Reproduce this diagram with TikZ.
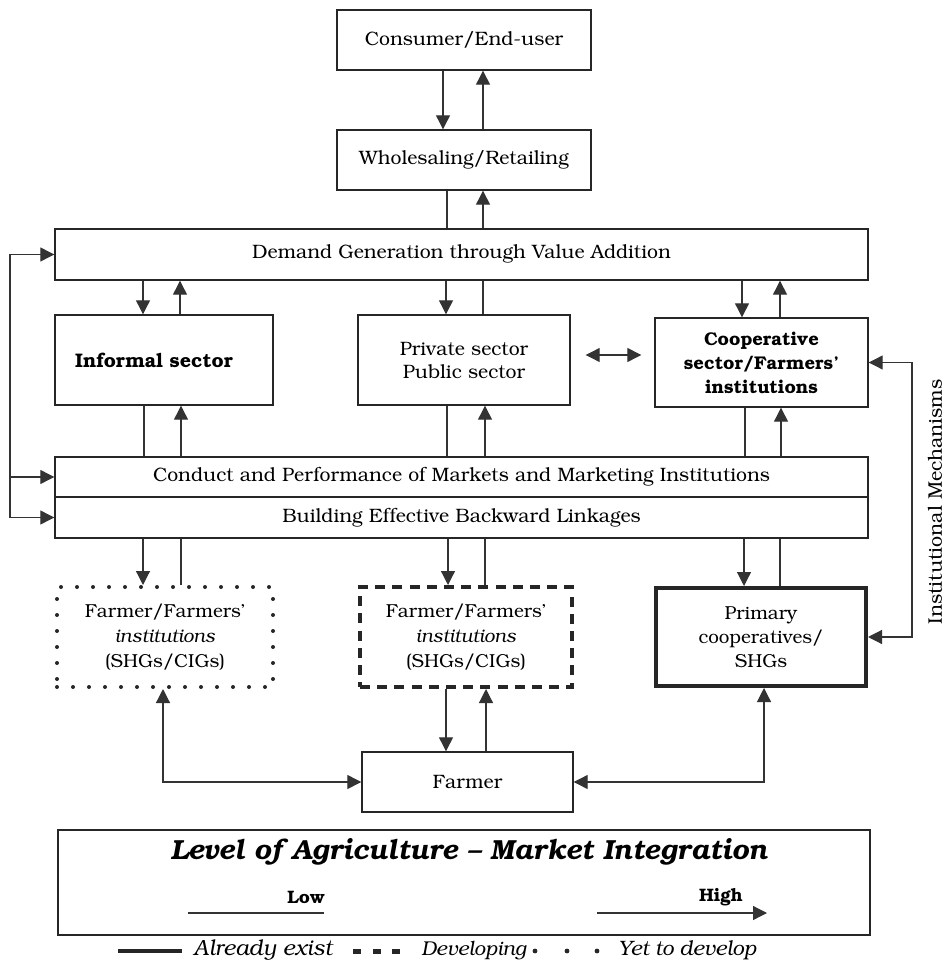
\documentclass[tikz,border=0pt]{standalone}
\usepackage[T1]{fontenc}
\usepackage{bookman}
\usetikzlibrary{arrows.meta,calc}

\begin{document}
\begin{tikzpicture}[x=0.5pt,y=-0.5pt,
  box/.style={draw=black!85, line width=0.7pt, inner sep=0pt, align=center,
    font=\fontsize{9.7}{12}\selectfont},
  dotbox/.style={box, line width=2pt, dash pattern=on 0pt off 8pt, line cap=round},
  dashbox/.style={box, line width=2pt, dash pattern=on 5pt off 3.6pt},
  thickbox/.style={box, line width=2pt},
  ln/.style={draw=black!80, line width=0.6pt},
  arr/.style={ln, -{Triangle[length=7pt,width=7pt]}},
  darr/.style={ln, {Triangle[length=7pt,width=7pt]}-{Triangle[length=7pt,width=7pt]}},
  lbl/.style={inner sep=0pt, font=\fontsize{9.5}{12}\selectfont}
]
\useasboundingbox (0,0) rectangle (945,961);

% ---- boxes ----
\node[box, minimum width=127pt, minimum height=30pt] (cons) at (464,40) {Consumer/End-user};
\node[box, minimum width=127pt, minimum height=30pt] (whole) at (464,160) {Wholesaling/Retailing};
\node[box, minimum width=406.5pt, minimum height=25.5pt] (demand) at (461.5,254.5)
  {Demand Generation through Value Addition};

\node[box, minimum width=109pt, minimum height=45pt, font=\fontsize{9.8}{12}\selectfont\bfseries]
  (informal) at (164,360) {Informal sector\hspace*{10pt}\raisebox{3pt}{}};
\node[box, minimum width=106pt, minimum height=45pt, font=\fontsize{9.7}{11.5}\selectfont]
  (private) at (464,360) {Private sector\\Public sector};
\node[box, minimum width=106.5pt, minimum height=44.5pt, font=\fontsize{9.2}{12}\selectfont\bfseries]
  (coop) at (761.5,362.5) {Cooperative\\sector/Farmers'\\institutions};

\node[box, minimum width=406.5pt, minimum height=20pt] (conduct) at (461.5,477)
  {Conduct and Performance of Markets and Marketing Institutions};
\node[box, minimum width=406.5pt, minimum height=20.5pt] (build) at (461.5,517.5)
  {Building Effective Backward Linkages};

\node[dotbox, minimum width=108pt, minimum height=50pt, font=\fontsize{9.4}{12.5}\selectfont]
  (dotted) at (165,637) {Farmer/Farmers'\\\textit{institutions}\\(SHGs/CIGs)};
\node[dashbox, minimum width=106pt, minimum height=50pt, font=\fontsize{9.4}{12.5}\selectfont]
  (dashed) at (466,637) {Farmer/Farmers'\\\textit{institutions}\\(SHGs/CIGs)};
\node[thickbox, minimum width=105pt, minimum height=49pt, font=\fontsize{9.4}{12}\selectfont]
  (primary) at (761,637) {Primary\\cooperatives/\\SHGs};

\node[box, minimum width=105.5pt, minimum height=30pt] (farmer) at (467.5,782) {Farmer};

\node[box, minimum width=406pt, minimum height=52.5pt] (level) at (464,882.5) {};

% ---- vertical links ----
% consumer / wholesaling
\draw[arr] ($(cons.south)+(-21,0)$) -- ($(whole.north)+(-21,0)$);
\draw[arr] ($(whole.north)+(19,0)$) -- ($(cons.south)+(19,0)$);
% wholesaling / demand generation
\draw[ln] ($(whole.south)+(-17,0)$) -- ($(whole.south |- demand.north)+(-17,0)$);
\draw[arr] ($(whole.south |- demand.north)+(19,0)$) -- ($(whole.south)+(19,0)$);

% demand generation / sectors
\draw[arr] ($(informal.north |- demand.south)+(-21,0)$) -- ($(informal.north)+(-21,0)$);
\draw[arr] ($(informal.north)+(16,0)$) -- ($(informal.north |- demand.south)+(16,0)$);
\draw[arr] ($(private.north |- demand.south)+(-18,0)$) -- ($(private.north)+(-18,0)$);
\draw[ln] ($(private.north)+(19,0)$) -- ($(private.north |- demand.south)+(19,0)$);
\draw[arr] ($(coop.north |- demand.south)+(-19.5,0)$) -- ($(coop.north)+(-19.5,0)$);
\draw[arr] ($(coop.north)+(18.5,0)$) -- ($(coop.north |- demand.south)+(18.5,0)$);

% sectors / conduct and performance
\draw[ln] ($(informal.south)+(-20,0)$) -- ($(informal.south |- conduct.north)+(-20,0)$);
\draw[arr] ($(informal.south |- conduct.north)+(17,0)$) -- ($(informal.south)+(17,0)$);
\draw[ln] ($(private.south)+(-17,0)$) -- ($(private.south |- conduct.north)+(-17,0)$);
\draw[arr] ($(private.south |- conduct.north)+(21,0)$) -- ($(private.south)+(21,0)$);
\draw[ln] ($(coop.south)+(-16.5,0)$) -- ($(coop.south |- conduct.north)+(-16.5,0)$);
\draw[arr] ($(coop.south |- conduct.north)+(19.5,0)$) -- ($(coop.south)+(19.5,0)$);

% backward linkages / grassroots institutions
\draw[arr] ($(dotted.north |- build.south)+(-22,0)$) -- ($(dotted.north)+(-22,0)$);
\draw[ln] ($(dotted.north)+(16,0)$) -- ($(dotted.north |- build.south)+(16,0)$);
\draw[arr] ($(dashed.north |- build.south)+(-18,0)$) -- ($(dashed.north)+(-18,0)$);
\draw[ln] ($(dashed.north)+(19,0)$) -- ($(dashed.north |- build.south)+(19,0)$);
\draw[arr] ($(primary.north |- build.south)+(-17,0)$) -- ($(primary.north)+(-17,0)$);
\draw[ln] ($(primary.north)+(19,0)$) -- ($(primary.north |- build.south)+(19,0)$);

% farmer links
\draw[arr] ($(dashed.south)+(-20,0)$) -- ($(dashed.south |- farmer.north)+(-20,0)$);
\draw[arr] ($(dashed.south |- farmer.north)+(20,0)$) -- ($(dashed.south)+(20,0)$);
\draw[darr] ($(dotted.south)+(-2,0)$) |- (farmer.west);
\draw[darr] ($(primary.south)+(3,0)$) |- (farmer.east);

% private <-> cooperative
\draw[darr] ($(private.east)+(15,-5)$) -- ($(coop.west |- private.east)+(-13,-5)$);

% feedback loop on the left
\coordinate (loopx) at (10,0);
\draw[arr] (build.west -| loopx) -- (demand.west -| loopx) -- (demand.west);
\draw[arr] (conduct.west -| loopx) -- (conduct.west);
\draw[arr] (build.west -| loopx) -- (build.west);

% institutional mechanisms
\coordinate (imx) at (912,0);
\draw[darr] (coop.east) -- (coop.east -| imx) -- (primary.east -| imx) -- (primary.east);
\node[lbl, rotate=90, font=\fontsize{9.8}{12}\selectfont] (imlabel) at (935,502) {Institutional Mechanisms};

% ---- level of integration ----
\node[lbl, font=\fontsize{13.8}{15}\selectfont\bfseries\itshape] (title) at (469,852)
  {Level of Agriculture -- Market Integration};
\node[lbl, font=\fontsize{9}{11}\selectfont\bfseries] (low) at (306,897) {Low};
\node[lbl, font=\fontsize{9}{11}\selectfont\bfseries] (high) at (721,897) {High};
\coordinate (lowa) at (188,913);
\coordinate (lowb) at (324,913);
\coordinate (higha) at (597,913);
\coordinate (highb) at (767,913);
\draw[ln] (lowa) -- (lowb);
\draw[arr] (higha) -- (highb);

% ---- legend ----
\coordinate (la) at (118,951);
\coordinate (lb) at (182,951);
\draw[line width=2.2pt, black!85] (la) -- (lb);
\node[lbl, anchor=west, font=\fontsize{11}{12}\selectfont\itshape] (l1) at (193,950) {Already exist};
\foreach \dx in {357,377,396}
  \fill[black!85] (\dx-4,948.5) rectangle (\dx+4,953.5);
\node[lbl, anchor=west, font=\fontsize{10}{12}\selectfont\itshape] (l2) at (421,950) {Developing};
\foreach \dx in {535,567,597}
  \fill[black!85] (\dx,951) circle (1.2pt);
\node[lbl, anchor=west, font=\fontsize{10.4}{12}\selectfont\itshape] (l3) at (618,950) {Yet to develop};
\end{tikzpicture}
\end{document}
